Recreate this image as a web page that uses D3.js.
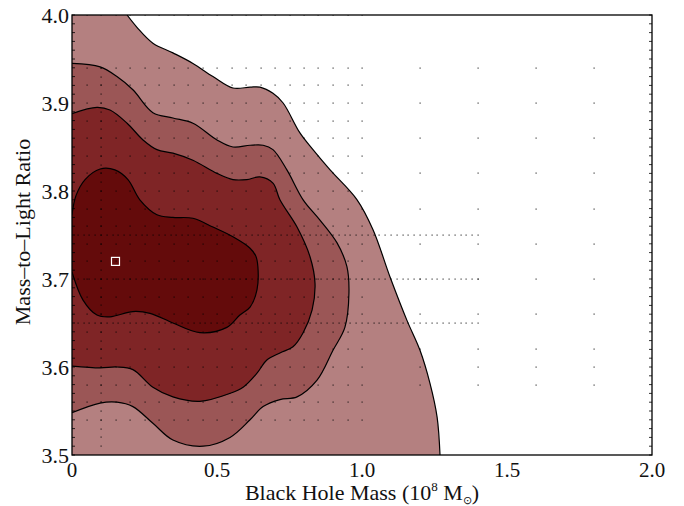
<!DOCTYPE html>
<html>
<head>
<meta charset="utf-8">
<script src="https://cdn.jsdelivr.net/npm/d3@7"></script>
<style>
  body { margin: 0; background: #fff; }
  text { font-family: "Liberation Serif", "Times New Roman", serif; fill: #111; }
</style>
</head>
<body>
<div id="chart"></div>
<script>
{
const margin = {top: 15, right: 32, bottom: 51, left: 72};
const width = 684;
const height = 506;

// x ticks and y ticks
const xTicks = [0, 0.5, 1.0, 1.5, 2.0];
const xTickLabels = ['0', '0.5', '1.0', '1.5', '2.0'];
const yTicks = [3.5, 3.6, 3.7, 3.8, 3.9, 4.0];
const yTickLabels = ['3.5', '3.6', '3.7', '3.8', '3.9', '4.0'];

// contour levels, outermost first: [black hole mass, M/L]
const level1 = [[0.190,4.000],[0.224,3.986],[0.279,3.968],[0.348,3.957],[0.417,3.945],[0.486,3.930],
  [0.555,3.917],[0.614,3.918],[0.648,3.918],[0.693,3.911],[0.728,3.900],[0.786,3.866],[0.831,3.847],
  [0.890,3.824],[0.983,3.790],[1.038,3.756],[1.097,3.702],[1.155,3.653],[1.200,3.619],[1.234,3.582],
  [1.259,3.543],[1.269,3.500]];
const level2 = [[0,3.945],[0.097,3.941],[0.155,3.930],[0.210,3.915],[0.279,3.889],[0.348,3.883],
  [0.417,3.877],[0.500,3.858],[0.555,3.850],[0.614,3.852],[0.659,3.852],[0.693,3.847],[0.741,3.824],
  [0.797,3.790],[0.855,3.767],[0.914,3.741],[0.948,3.714],[0.955,3.684],[0.941,3.645],[0.900,3.619],
  [0.845,3.585],[0.776,3.566],[0.717,3.563],[0.659,3.555],[0.614,3.540],[0.545,3.520],[0.452,3.510],
  [0.348,3.517],[0.279,3.536],[0.210,3.555],[0.155,3.560],[0.097,3.559],[0,3.548]];
const level3 = [[0,3.888],[0.086,3.895],[0.131,3.892],[0.190,3.877],[0.245,3.858],[0.293,3.847],
  [0.348,3.843],[0.417,3.835],[0.500,3.820],[0.555,3.813],[0.603,3.813],[0.648,3.816],[0.693,3.809],
  [0.717,3.790],[0.776,3.759],[0.821,3.725],[0.838,3.695],[0.828,3.665],[0.797,3.639],[0.762,3.623],
  [0.717,3.616],[0.672,3.608],[0.638,3.593],[0.590,3.577],[0.545,3.570],[0.441,3.561],[0.348,3.566],
  [0.279,3.577],[0.210,3.597],[0.155,3.600],[0.097,3.599],[0,3.601]];
const level4 = [[0,3.773],[0.014,3.795],[0.045,3.813],[0.097,3.825],[0.148,3.824],[0.193,3.813],
  [0.234,3.790],[0.293,3.773],[0.348,3.770],[0.417,3.769],[0.486,3.759],[0.555,3.748],[0.614,3.735],
  [0.634,3.726],[0.641,3.714],[0.638,3.688],[0.614,3.668],[0.579,3.659],[0.534,3.645],[0.441,3.639],
  [0.348,3.650],[0.269,3.661],[0.210,3.663],[0.131,3.657],[0.086,3.659],[0.038,3.676],[0,3.708]];
const levelColors = ['#b48080', '#9b5656', '#7f2526', '#640b0b'];

// best fit model
const bestFit = [0.15, 3.72];

// model grid (dots)
const fineX = [0.05,0.10,0.15,0.20,0.25,0.30,0.35,0.40,0.45,0.50,0.55,0.60,0.65,0.70,0.75,0.80,0.85,0.90,0.95,1.00];
const fineY = [3.54,3.56,3.58,3.60,3.62,3.64,3.66,3.68,3.70,3.72,3.74,3.76,3.78,3.80,3.82,3.84,3.86,3.88,3.90,3.92,3.94,4.00];
const coarseX = [1.2, 1.4, 1.6, 1.8];
const coarseY = [3.58,3.60,3.62,3.66,3.70,3.74,3.78,3.82,3.86,3.90,3.94];
const denseY = [3.65, 3.70, 3.75];
const denseX = [0.02,0.04,0.06,0.08,0.10,0.12,0.14,0.16,0.18,0.20,0.22,0.24,0.26,0.28,0.30,0.32,0.34,0.36,
  0.38,0.40,0.42,0.44,0.46,0.48,0.50,0.52,0.54,0.56,0.58,0.60,0.62,0.64,0.66,0.68,0.70,0.72,0.74,0.76,0.78,
  0.80,0.82,0.84,0.86,0.88,0.90,0.92,0.94,0.96,0.98,1.00,1.02,1.04,1.06,1.08,1.10,1.12,1.14,1.16,1.18,1.20,
  1.22,1.24,1.26,1.28,1.30,1.32,1.34,1.36,1.38,1.40];
const columnX = 0.10;
const columnY = [3.51,3.52,3.53,3.54,3.55,3.56,3.57,3.58,3.59,3.60,3.61,3.62,3.63,3.64,3.65,3.66,3.67,3.68,
  3.69,3.70,3.71,3.72,3.73,3.74,3.75,3.76,3.77,3.78,3.79,3.80,3.81,3.82,3.83,3.84,3.85,3.86,3.87,3.88,3.89,
  3.90,3.91,3.92,3.93,3.94];

const svg = d3.select('#chart').append('svg')
    .attr('width', width)
    .attr('height', height);

const x = d3.scaleLinear().domain([0, 2.0]).range([margin.left, width - margin.right]);
const y = d3.scaleLinear().domain([3.5, 4.0]).range([height - margin.bottom, margin.top]);

svg.append('clipPath').attr('id', 'plotclip')
    .append('rect')
    .attr('x', x(0)).attr('y', y(4.0))
    .attr('width', x(2.0) - x(0)).attr('height', y(3.5) - y(4.0));

const plot = svg.append('g').attr('clip-path', 'url(#plotclip)');

const line = d3.line()
    .x(d => x(d[0]))
    .y(d => y(d[1]))
    .curve(d3.curveCatmullRom.alpha(0.5));

// outermost region is bounded by the top, left and bottom frame
plot.append('path')
    .attr('d', line(level1) + `L${x(0)},${y(3.5)}L${x(0)},${y(4.0)}Z`)
    .style('fill', levelColors[0]);

[level2, level3, level4].forEach(function(lv, i) {
    plot.append('path')
        .attr('d', line(lv) + 'Z')
        .style('fill', levelColors[i + 1]);
});

[level1, level2, level3, level4].forEach(function(lv) {
    plot.append('path')
        .attr('d', line(lv))
        .style('fill', 'none')
        .style('stroke', '#000')
        .style('stroke-width', 1.2);
});

// grid of models
let dots = [];
fineY.forEach(yy => fineX.forEach(xx => dots.push([xx, yy])));
coarseY.forEach(yy => coarseX.forEach(xx => dots.push([xx, yy])));
denseY.forEach(yy => denseX.forEach(xx => dots.push([xx, yy])));
columnY.forEach(yy => dots.push([columnX, yy]));

plot.selectAll('.dot').data(dots).enter()
    .append('rect')
    .attr('class', 'dot')
    .attr('x', d => Math.round(x(d[0])) - 0.5)
    .attr('y', d => Math.round(y(d[1])) - 0.5)
    .attr('width', 1.2)
    .attr('height', 1.2)
    .style('fill', '#000')
    .style('opacity', 0.75);

// best fit marker
plot.append('rect')
    .attr('x', x(bestFit[0]) - 4)
    .attr('y', y(bestFit[1]) - 4)
    .attr('width', 8)
    .attr('height', 8)
    .style('fill', 'none')
    .style('stroke', '#fff')
    .style('stroke-width', 1.2);

// minor ticks on left and right
const minor = y.ticks(50);
svg.selectAll('.minorL').data(minor).enter()
    .append('line')
    .attr('x1', x(0)).attr('x2', x(0) + 3)
    .attr('y1', d => y(d)).attr('y2', d => y(d))
    .style('stroke', '#000').style('stroke-width', 0.8);
svg.selectAll('.minorR').data(minor).enter()
    .append('line')
    .attr('x1', x(2.0)).attr('x2', x(2.0) - 3)
    .attr('y1', d => y(d)).attr('y2', d => y(d))
    .style('stroke', '#000').style('stroke-width', 0.8);

// frame
svg.append('rect')
    .attr('x', x(0)).attr('y', y(4.0))
    .attr('width', x(2.0) - x(0)).attr('height', y(3.5) - y(4.0))
    .style('fill', 'none')
    .style('stroke', '#000')
    .style('stroke-width', 1.3);

// tick labels
svg.selectAll('.xlab').data(xTicks).enter()
    .append('text')
    .attr('x', d => x(d))
    .attr('y', y(3.5) + 22)
    .style('text-anchor', 'middle')
    .style('font-size', '21px')
    .text((d, i) => xTickLabels[i]);

svg.selectAll('.ylab').data(yTicks).enter()
    .append('text')
    .attr('x', x(0) - 3)
    .attr('y', d => y(d))
    .attr('dy', '0.35em')
    .style('text-anchor', 'end')
    .style('font-size', '22px')
    .text((d, i) => yTickLabels[i]);

// axis titles
const xTitle = svg.append('text')
    .attr('x', x(1.0))
    .attr('y', y(3.5) + 45)
    .style('text-anchor', 'middle')
    .style('font-size', '22px');
xTitle.append('tspan').text('Black Hole Mass (10');
xTitle.append('tspan').text('8').attr('dy', -9).style('font-size', '13px');
xTitle.append('tspan').text(' M').attr('dy', 9);
xTitle.append('tspan').text('⊙').attr('dy', 4).style('font-size', '11px');
xTitle.append('tspan').text(')').attr('dy', -4);

svg.append('text')
    .attr('transform', `translate(30, ${(y(3.5) + y(4.0)) / 2 - 3}) rotate(-90)`)
    .style('text-anchor', 'middle')
    .style('font-size', '22px')
    .text('Mass–to–Light Ratio');
}
</script>
</body>
</html>
